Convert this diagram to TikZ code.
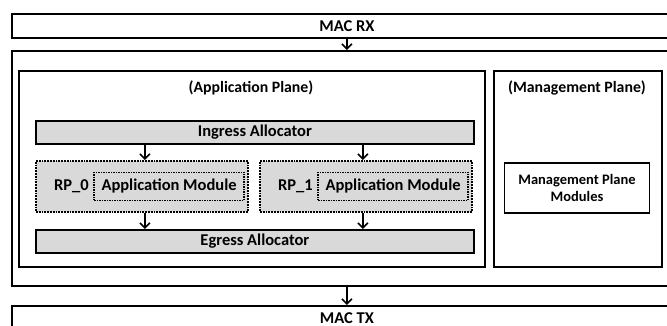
\documentclass[tikz,border=0pt]{standalone}
\usepackage{fontspec}
\setmainfont{Carlito}
\usetikzlibrary{arrows.meta, positioning}
\definecolor{blockgray}{RGB}{217,217,217}
\tikzstyle{arrow} = [line width=1.6pt,-{Straight Barb[length=5pt,width=10pt]}]
\tikzstyle{macbox} = [
    rectangle, draw=black, line width=1.8pt, minimum width=670pt,
    minimum height=24pt, anchor=north west, font=\bfseries\fontsize{16.5}{18}\selectfont
]
\tikzstyle{plane} = [
    rectangle, draw=black, line width=1.8pt, anchor=north west
]
\tikzstyle{planetitle} = [font=\bfseries\fontsize{15.8}{18}\selectfont]
\tikzstyle{alloc} = [
    rectangle, draw=black, fill=blockgray, line width=1.8pt, minimum width=438pt,
    minimum height=23pt, anchor=north west, font=\bfseries\fontsize{16.5}{18}\selectfont
]
\tikzstyle{rpbox} = [
    rectangle, draw=black, fill=blockgray, densely dotted, line width=1.8pt,
    minimum width=212pt, minimum height=51pt, anchor=north west
]
\tikzstyle{appmod} = [
    rectangle, draw=black, densely dotted, line width=1.5pt, minimum width=150pt,
    minimum height=28pt, anchor=east, font=\bfseries\fontsize{16.5}{18}\selectfont
]

\begin{document}
\begin{tikzpicture}[x=1pt, y=-1pt]
\useasboundingbox (0,0) rectangle (667,326);
\clip (0,0) rectangle (667,326);
% Blocos externos
\node (MAC_RX) [macbox] at (11,13) {MAC RX};
\node (Outer) [plane, minimum width=670pt, minimum height=235pt] at (11,50) {};
\node (MAC_TX) [macbox] at (11,305) {MAC TX};

% Planos
\node (App_Plane) [plane, minimum width=466pt, minimum height=196pt] at (18,70) {};
\node (App_Title) [planetitle] at (251,88) {(Application Plane)};
\node (Mgmt_Plane) [plane, minimum width=168pt, minimum height=196pt] at (493,70) {};
\node (Mgmt_Title) [planetitle] at (577,88) {(Management Plane)};

% Application plane
\node (Ingress) [alloc] at (35,120) {Ingress Allocator};
\node (RP_0) [rpbox] at (35,160) {};
\node (RP_1) [rpbox] at (259,160) {};
\node (AM_0) [appmod] at ([xshift=-4pt]RP_0.east) {Application Module};
\node (AM_1) [appmod] at ([xshift=-4pt]RP_1.east) {Application Module};
\node (RP_0_txt) [left=1pt of AM_0, planetitle, font=\bfseries\fontsize{16.5}{18}\selectfont] {RP\_0};
\node (RP_1_txt) [left=1pt of AM_1, planetitle, font=\bfseries\fontsize{16.5}{18}\selectfont] {RP\_1};
\node (Egress) [alloc] at (35,229) {Egress Allocator};

% Management plane
\node (Mgmt_Mod) [rectangle, draw=black, line width=1.8pt, minimum width=145pt,
    minimum height=50pt, align=center, font=\bfseries\fontsize{14.5}{17}\selectfont]
    at (577,188) {Management Plane\\Modules};

% Connections
\draw [arrow] (MAC_RX) -- (Outer);
\draw [arrow] ([xshift=3pt]Ingress.south -| RP_0) -- ([xshift=3pt]RP_0.north);
\draw [arrow] ([xshift=-3pt]Ingress.south -| RP_1) -- ([xshift=-3pt]RP_1.north);
\draw [arrow] ([xshift=3pt]RP_0.south) -- ([xshift=3pt]Egress.north -| RP_0);
\draw [arrow] ([xshift=-3pt]RP_1.south) -- ([xshift=-3pt]Egress.north -| RP_1);
\draw [arrow] (Outer) -- (MAC_TX);

\end{tikzpicture}
\end{document}
